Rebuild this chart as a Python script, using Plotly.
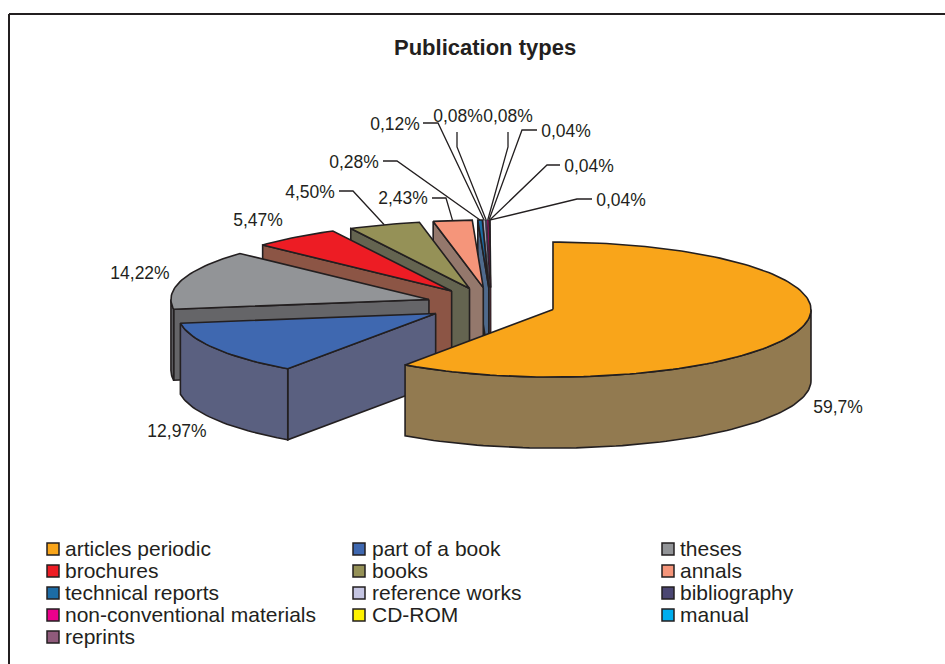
import math
import plotly.graph_objects as go

# ---- data ----
categories = ["articles periodic", "part of a book", "theses", "brochures", "books", "annals",
              "technical reports", "reference works", "bibliography",
              "non-conventional materials", "CD-ROM", "manual", "reprints"]
values = [59.7, 12.97, 14.22, 5.47, 4.50, 2.43, 0.28, 0.12, 0.08, 0.08, 0.04, 0.04, 0.04]
value_labels = ["59,7%", "12,97%", "14,22%", "5,47%", "4,50%", "2,43%", "0,28%", "0,12%",
                "0,08%", "0,08%", "0,04%", "0,04%", "0,04%"]
top_colors = ["#f9a51a", "#3f68b0", "#929497", "#ed1c24", "#959157", "#f5957a", "#1c6ca6",
              "#c5c5e2", "#4b4672", "#ec008c", "#fff200", "#00aeef", "#8f5a7b"]
wall_colors = ["#927a50", "#5a6080", "#656568", "#8c5545", "#646450", "#94786c", "#4f6a8c",
               "#84849a", "#35324f", "#a00060", "#aaa200", "#007aa8", "#643f56"]

# ---- pie geometry (pixels) ----
CX, CY = 491, 304.5
RX, RY = 258, 67.5
EXPLODE = 65
DEPTH = 71
INK = "#231f20"
TEXT_DY = 2

# label placement: text centre, then leader elbow points (None = no leader)
label_pos = [(838, 407), (177, 431), (140, 273), (258, 220), (310, 192), (403, 198), (354, 162),
             (395, 124), (458, 116), (508, 116), (566, 131), (589, 166), (621, 200)]
leaders = [None, None, None, None,
           [(339, 191), (353, 191)], [(432, 198), (446, 198)], [(383, 161), (397, 161)],
           [(423, 123), (438, 123)], [(457, 132), (457, 147)], [(508, 132), (508, 147)],
           [(537, 130), (522, 130)], [(560, 165), (547, 165)], [(592, 199), (577, 199)]]

fig = go.Figure()


def poly(pts, fill, lw=1.6):
    xs = [p[0] for p in pts] + [pts[0][0]]
    ys = [p[1] for p in pts] + [pts[0][1]]
    fig.add_trace(go.Scatter(x=xs, y=ys, mode="lines", fill="toself", fillcolor=fill,
                             line=dict(color=INK, width=lw), hoverinfo="skip", showlegend=False))


total = sum(values)
slices = []
a = 0.0
for v in values:
    b = a + 360 * v / total
    m = math.radians((a + b) / 2)
    ax = CX + EXPLODE * math.sin(m)
    ay = CY - EXPLODE * RY / RX * math.cos(m)
    slices.append((a, b, ax, ay))
    a = b


def rim(ax, ay, deg, dz=0):
    t = math.radians(deg)
    return (ax + RX * math.sin(t), ay - RY * math.cos(t) + dz)


def arc(ax, ay, a0, a1, dz=0):
    n = max(2, int(abs(a1 - a0) / 1.5) + 2)
    return [rim(ax, ay, a0 + (a1 - a0) * i / (n - 1), dz) for i in range(n)]


# paint back to front: last slices first, the largest last
for i in reversed(range(len(values))):
    a0, a1, ax, ay = slices[i]
    lw = 1.6 if values[i] >= 0.2 else 0.5
    # cut face on the start radius (faces the viewer for the slices on the left)
    if 180 <= a0 < 360:
        s = rim(ax, ay, a0)
        poly([(ax, ay), s, (s[0], s[1] + DEPTH), (ax, ay + DEPTH)], wall_colors[i], lw)
    # outer rim wall (front half of the ellipse only)
    lo, hi = max(a0, 90), min(a1, 270)
    if hi > lo:
        poly(arc(ax, ay, lo, hi) + arc(ax, ay, hi, lo, DEPTH), wall_colors[i], lw)
    # top face
    poly([(ax, ay)] + arc(ax, ay, a0, a1), top_colors[i], lw)

# value labels and leaders
for i, txt in enumerate(value_labels):
    a0, a1, ax, ay = slices[i]
    if leaders[i]:
        end = rim(ax, ay, (a0 + a1) / 2)
        pts = leaders[i] + [end]
        fig.add_trace(go.Scatter(x=[p[0] for p in pts], y=[p[1] for p in pts], mode="lines",
                                 line=dict(color=INK, width=1.3), hoverinfo="skip", showlegend=False))
fig.add_trace(go.Scatter(x=[p[0] for p in label_pos], y=[p[1] + TEXT_DY for p in label_pos], mode="text",
                         text=value_labels, textposition="middle center",
                         textfont=dict(family="Liberation Sans", size=17.5, color=INK),
                         hoverinfo="skip", showlegend=False))

# legend (3 columns, row by row)
LEG_X = [53, 359, 668]
LEG_TX = [65, 372, 680]
LEG_Y0, LEG_DY = 549, 22
lx = [LEG_X[i % 3] for i in range(len(categories))]
tx = [LEG_TX[i % 3] for i in range(len(categories))]
ly = [LEG_Y0 + LEG_DY * (i // 3) for i in range(len(categories))]
fig.add_trace(go.Scatter(x=lx, y=ly, mode="markers",
                         marker=dict(symbol="square", size=12, color=top_colors,
                                     line=dict(color=INK, width=1.5)),
                         hoverinfo="skip", showlegend=False))
fig.add_trace(go.Scatter(x=tx, y=[v + TEXT_DY for v in ly], mode="text", text=categories, textposition="middle right",
                         textfont=dict(family="Liberation Sans", size=21, color=INK),
                         hoverinfo="skip", showlegend=False))

fig.update_layout(
    width=945, height=664, margin=dict(l=0, r=0, t=0, b=0), autosize=False,
    paper_bgcolor="white", plot_bgcolor="white", showlegend=False,
    xaxis=dict(range=[0, 945], visible=False, fixedrange=True),
    yaxis=dict(range=[664, 0], visible=False, fixedrange=True),
    annotations=[dict(x=485, y=47, xref="x", yref="y", text="<b>Publication types</b>", showarrow=False,
                      font=dict(family="Liberation Sans", size=22, color=INK))],
    shapes=[dict(type="line", xref="x", yref="y", x0=9, y0=14, x1=945, y1=14, line=dict(color=INK, width=2)),
            dict(type="line", xref="x", yref="y", x0=9, y0=14, x1=9, y1=664, line=dict(color=INK, width=2))],
)
fig.write_html("out.html", config={"displayModeBar": False},
               post_script="document.body.style.margin='0';document.body.style.overflow='hidden';")
